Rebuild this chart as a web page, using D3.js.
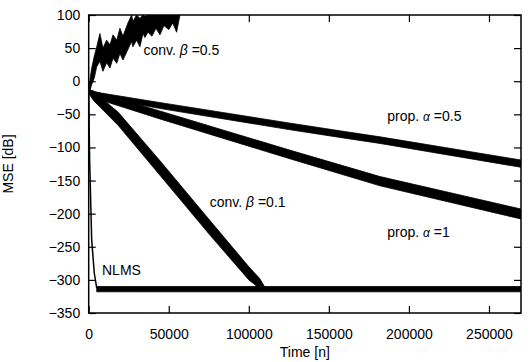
<!DOCTYPE html>
<html>
<head>
<meta charset="utf-8">
<style>
body { margin: 0; background: #fff; }
text { font-family: "Liberation Sans", Arial, sans-serif; fill: #000; }
</style>
</head>
<body>
<svg width="531" height="362"></svg>
<script src="https://d3js.org/d3.v7.min.js"></script>
<script>
// tick values
var xTicks = [0, 50000, 100000, 150000, 200000, 250000];
var yTicks = [100, 50, 0, -50, -100, -150, -200, -250, -300, -350];

// conv. beta=0.5, diverges (upper / lower edge of the noisy band, dB)
var convB05N  = [0, 1900, 3500, 5000, 7000, 8900, 11200, 13300, 15200, 17500, 19500, 21400, 24500, 26800, 27600, 29900, 32000, 33900, 35100, 37000, 39500, 42000, 44500, 47000, 50000, 52500, 54900, 57000];
var convB05Hi = [-10, 20, 38, 52, 72, 50, 62, 55, 70, 62, 80, 68, 88, 100, 90, 100, 95, 100, 98, 100, 100, 100, 100, 100, 100, 100, 100, 100];
var convB05Lo = [-20, -5, 5, 22, 30, 15, 28, 20, 35, 27, 42, 32, 48, 60, 52, 62, 52, 72, 66, 74, 68, 80, 70, 84, 78, 88, 74, 100];

// prop. alpha=0.5
var propA05N  = [0, 3000, 44000, 125000, 160000, 182000, 270000];
var propA05Hi = [-13, -16, -32, -63, -76, -84, -119];
var propA05Lo = [-17, -23, -41, -73, -86, -94, -130];

// prop. alpha=1
var propA1N  = [0, 3000, 44500, 125500, 182000, 270000];
var propA1Hi = [-13, -15, -45, -104, -144, -193];
var propA1Lo = [-17, -25, -57, -117, -158, -208];

// conv. beta=0.1
var convB01N  = [0, 3000, 18500, 44500, 75600, 100000, 106800, 109500];
var convB01Hi = [-12, -15, -47, -120, -210, -280, -298, -309];
var convB01Lo = [-18, -29, -67, -142, -232, -300, -313, -316];

// NLMS: fast drop, then floor
var nlmsDropN = [0, 600, 1870, 3500, 5000];
var nlmsDropV = [-15, -120, -240, -290, -312];
var nlmsFloorN  = [5000, 270000];
var nlmsFloorHi = [-310, -310];
var nlmsFloorLo = [-318, -318];

var labels = [
  {n: 34200,  v: 40,   t: "conv. ", g: "β", s: " =0.5"},
  {n: 186500, v: -60,  t: "prop. ", g: "α", s: " =0.5"},
  {n: 186500, v: -235, t: "prop. ", g: "α", s: " =1"},
  {n: 75600,  v: -190, t: "conv. ", g: "β", s: " =0.1"},
  {n: 8300,   v: -292, t: "NLMS", g: "", s: ""}
];

var svg = d3.select("svg");
var pL = 88.7, pR = 521, pT = 15, pB = 313;

var x = d3.scaleLinear().domain([0, 270000]).range([pL, pR]);
var y = d3.scaleLinear().domain([-350, 100]).range([pB, pT]);

svg.append("clipPath").attr("id", "plotclip")
  .append("rect")
    .attr("x", pL).attr("y", pT)
    .attr("width", pR - pL).attr("height", pB - pT);

var plot = svg.append("g").attr("clip-path", "url(#plotclip)");

function band(ns, hi, lo) {
  var rows = ns.map(function(n, i) { return {n: n, hi: hi[i], lo: lo[i]}; });
  var area = d3.area()
    .x(function(d) { return x(d.n); })
    .y0(function(d) { return y(d.lo); })
    .y1(function(d) { return y(d.hi); });
  plot.append("path")
    .attr("d", area(rows))
    .attr("fill", "#000")
    .attr("stroke", "#000")
    .attr("stroke-width", 0.8)
    .attr("stroke-linejoin", "round");
}

band(convB05N, convB05Hi, convB05Lo);
band(propA05N, propA05Hi, propA05Lo);
band(propA1N, propA1Hi, propA1Lo);
band(convB01N, convB01Hi, convB01Lo);
band(nlmsFloorN, nlmsFloorHi, nlmsFloorLo);

var line = d3.line()
  .x(function(d) { return x(d[0]); })
  .y(function(d) { return y(d[1]); });
plot.append("path")
  .attr("d", line(d3.zip(nlmsDropN, nlmsDropV)))
  .attr("fill", "none")
  .attr("stroke", "#000")
  .attr("stroke-width", 1.5);

// axes, gnuplot style ticks pointing inwards
var xb = svg.append("g")
  .attr("transform", "translate(0," + pB + ")")
  .call(d3.axisBottom(x).tickValues(xTicks).tickSize(-7).tickPadding(16).tickFormat(d3.format("d")));
var xt = svg.append("g")
  .attr("transform", "translate(0," + pT + ")")
  .call(d3.axisTop(x).tickValues(xTicks).tickSize(-7).tickFormat(""));
var yl = svg.append("g")
  .attr("transform", "translate(" + pL + ",0)")
  .call(d3.axisLeft(y).tickValues(yTicks).tickSize(-7).tickPadding(8.5).tickFormat(d3.format("d")));
var yr = svg.append("g")
  .attr("transform", "translate(" + pR + ",0)")
  .call(d3.axisRight(y).tickValues(yTicks).tickSize(-7).tickFormat(""));

[xb, xt, yl, yr].forEach(function(g) {
  g.select(".domain").remove();
  g.selectAll("line").attr("stroke", "#000").attr("stroke-width", 1.2);
  g.selectAll("text")
    .attr("font-family", "Liberation Sans, Arial, sans-serif")
    .attr("font-size", 14)
    .attr("fill", "#000");
});

svg.append("rect")
  .attr("x", pL).attr("y", pT)
  .attr("width", pR - pL).attr("height", pB - pT)
  .attr("fill", "none")
  .attr("stroke", "#000")
  .attr("stroke-width", 1.5);

// axis titles
svg.append("text")
  .attr("x", (pL + pR) / 2)
  .attr("y", 357)
  .attr("text-anchor", "middle")
  .attr("font-size", 14)
  .text("Time [n]");

svg.append("text")
  .attr("transform", "translate(13," + ((pT + pB) / 2) + ") rotate(-90)")
  .attr("text-anchor", "middle")
  .attr("font-size", 14)
  .text("MSE [dB]");

// curve labels
labels.forEach(function(l) {
  var t = svg.append("text")
    .attr("x", x(l.n))
    .attr("y", y(l.v))
    .attr("font-size", 14);
  t.append("tspan").text(l.t);
  if (l.g) {
    t.append("tspan")
      .attr("font-style", "italic")
      .attr("font-size", l.g == "α" ? 12 : 14)
      .text(l.g);
  }
  t.append("tspan").text(l.s);
});
</script>
</body>
</html>
